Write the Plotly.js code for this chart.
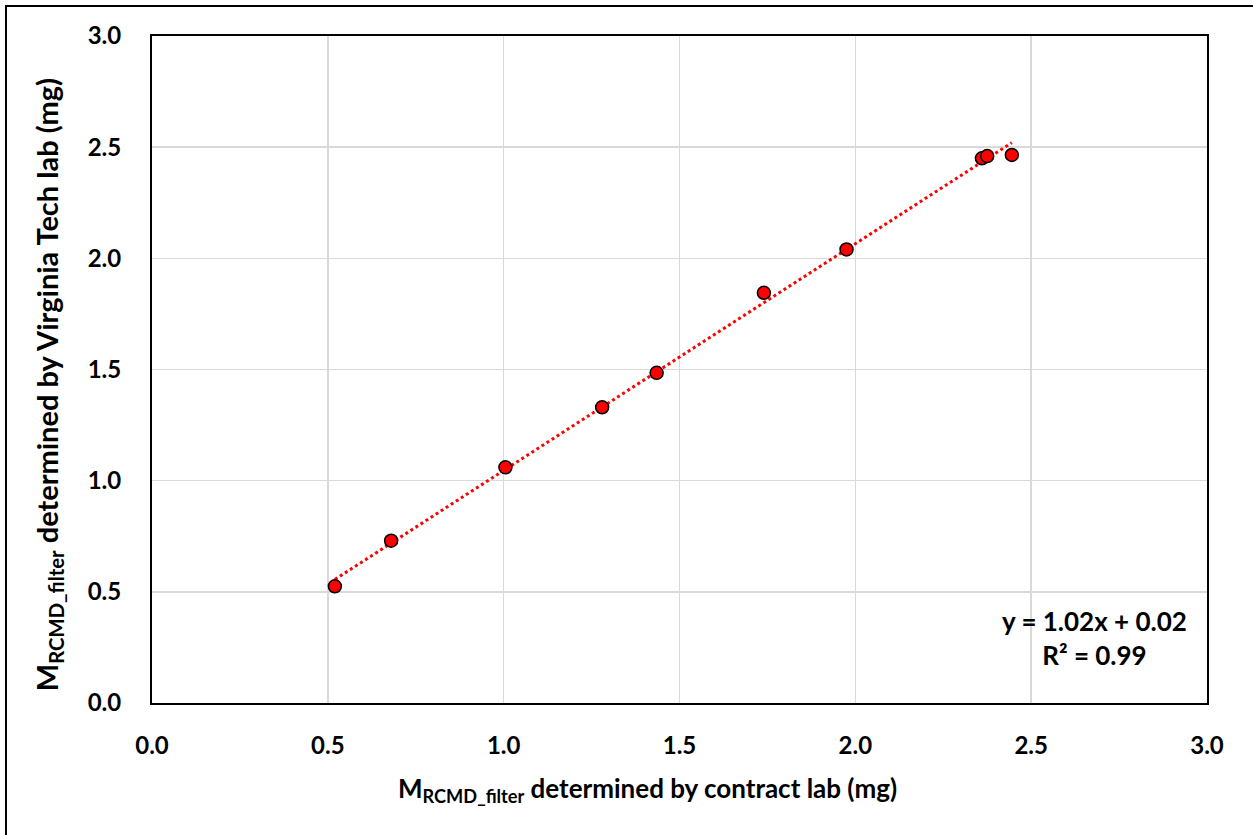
<!DOCTYPE html>
<html>
<head>
<meta charset="utf-8">
<script src="https://cdn.plot.ly/plotly-3.0.1.min.js"></script>
<style>
html,body{margin:0;padding:0;background:#fff;}
#chart{width:1253px;height:835px;}
#frame{position:absolute;left:5px;top:5px;width:1260px;height:850px;border-top:2px solid #000;border-left:2px solid #000;pointer-events:none;}
</style>
</head>
<body>
<div id="chart"></div>
<div id="frame"></div>
<script>
// Data
const contractLab = [0.52, 0.68, 1.005, 1.28, 1.435, 1.74, 1.975, 2.36, 2.375, 2.445];
const virginiaTechLab = [0.525, 0.73, 1.06, 1.33, 1.485, 1.845, 2.04, 2.45, 2.46, 2.465];
const tickVals = [0, 0.5, 1.0, 1.5, 2.0, 2.5, 3.0];
const tickText = ['0.0', '0.5', '1.0', '1.5', '2.0', '2.5', '3.0'];
const xTitle = 'M<sub>RCMD_filter</sub> determined by contract lab (mg)';
const yTitle = 'M<sub>RCMD_filter</sub> determined by Virginia Tech lab (mg)';
const equationText = 'y = 1.02x + 0.02<br>R² = 0.99';

// Linear trendline via least squares
const n = contractLab.length;
const mx = contractLab.reduce((a, b) => a + b, 0) / n;
const my = virginiaTechLab.reduce((a, b) => a + b, 0) / n;
let sxy = 0, sxx = 0;
for (let i = 0; i < n; i++) {
  sxy += (contractLab[i] - mx) * (virginiaTechLab[i] - my);
  sxx += (contractLab[i] - mx) ** 2;
}
const slope = sxy / sxx;
const intercept = my - slope * mx;
const xMin = Math.min(...contractLab), xMax = Math.max(...contractLab);
const trendX = [xMin, xMax];
const trendY = trendX.map(x => slope * x + intercept);

const font = 'Lato, "Open Sans", sans-serif';

const traces = [
  {
    x: trendX, y: trendY, mode: 'lines', type: 'scatter',
    line: {color: '#ff0000', width: 3, dash: 'dot'},
    hoverinfo: 'skip', showlegend: false
  },
  {
    x: contractLab, y: virginiaTechLab, mode: 'markers', type: 'scatter',
    marker: {color: '#ff0000', size: 13, line: {color: '#000', width: 1.5}},
    showlegend: false
  }
];

const axisCommon = {
  range: [0, 3],
  tickvals: tickVals,
  ticktext: tickText,
  showgrid: true,
  gridcolor: '#d9d9d9',
  gridwidth: 1.5,
  zeroline: false,
  showline: true,
  linecolor: '#000',
  linewidth: 2,
  mirror: true,
  ticks: '',
  tickfont: {family: font, size: 24, color: '#000', weight: 'bold'}
};

const layout = {
  width: 1253, height: 835,
  margin: {l: 152, r: 46, t: 36, b: 132},
  paper_bgcolor: '#fff', plot_bgcolor: '#fff',
  font: {family: font, color: '#000'},
  xaxis: Object.assign({}, axisCommon, {ticklabelstandoff: 20}),
  yaxis: Object.assign({}, axisCommon, {ticklabelstandoff: 24}),
  annotations: [
    {
      xref: 'paper', yref: 'paper', x: 0.470, y: -0.130,
      xanchor: 'center', yanchor: 'middle',
      text: '<b>' + xTitle + '</b>', showarrow: false,
      font: {family: font, size: 26, color: '#000'}
    },
    {
      xref: 'paper', yref: 'paper', x: -0.0986, y: 0.478,
      xanchor: 'center', yanchor: 'middle', textangle: -90,
      text: '<b>' + yTitle + '</b>', showarrow: false,
      font: {family: font, size: 29, color: '#000'}
    },
    {
      xref: 'paper', yref: 'paper', x: 0.893, y: 0.097,
      xanchor: 'center', yanchor: 'middle', align: 'center',
      text: '<b>' + equationText + '</b>', showarrow: false,
      font: {family: font, size: 26, color: '#000'}
    }
  ]
};

Plotly.newPlot('chart', traces, layout, {displayModeBar: false, staticPlot: true});
</script>
</body>
</html>
